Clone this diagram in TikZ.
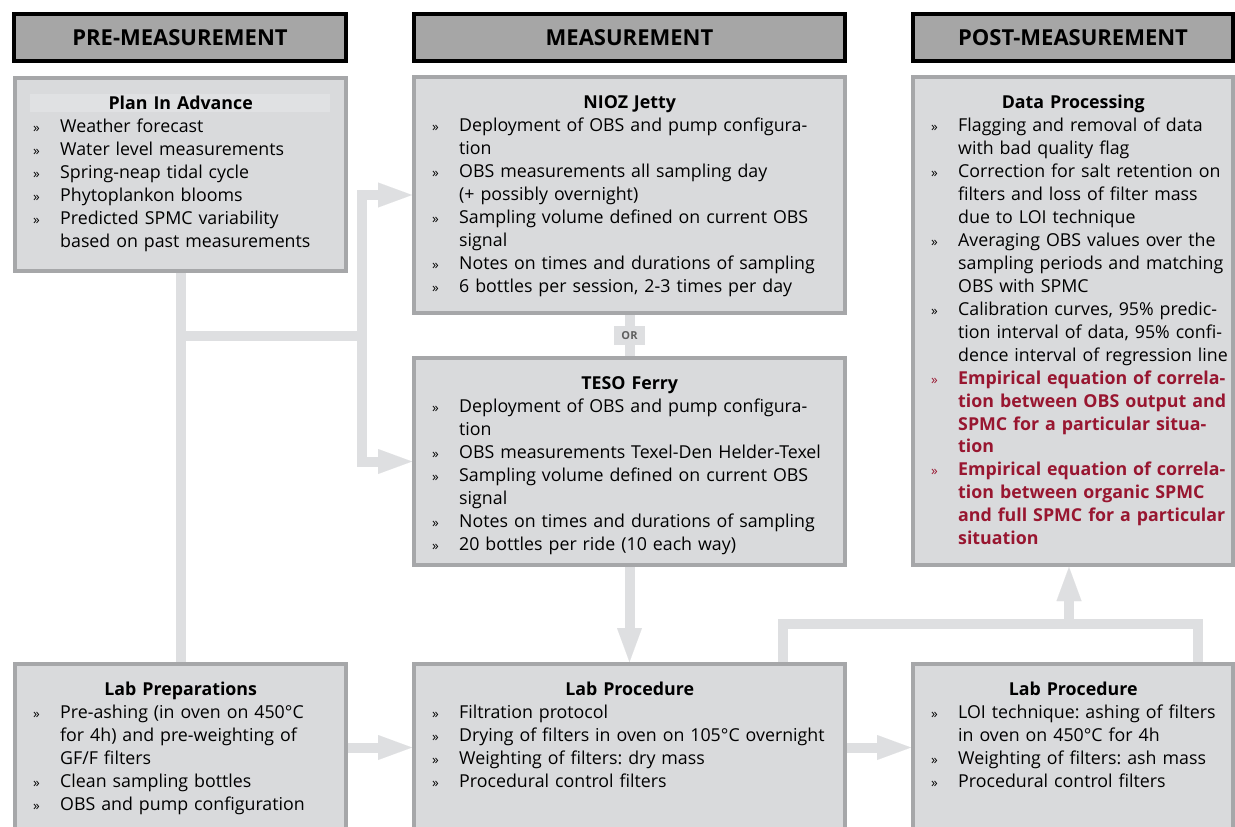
\documentclass[tikz,border=0pt]{standalone}
\usepackage{fontspec}
\setmainfont{Open Sans}
\usetikzlibrary{arrows.meta,calc}
\frenchspacing
\definecolor{boxfill}{RGB}{217,218,220}
\definecolor{boxline}{RGB}{166,167,169}
\definecolor{hdrfill}{RGB}{166,166,166}
\definecolor{connc}{RGB}{222,223,225}
\definecolor{bandc}{RGB}{224,225,227}
\definecolor{emph}{RGB}{152,22,48}
\definecolor{orc}{RGB}{95,95,95}
\newcommand{\bl}[1]{\makebox[47pt][l]{\hspace{20pt}{\fontsize{13.5}{13.5}\selectfont »}}#1}
\newcommand{\cl}[1]{\hspace*{47pt}#1}
\newcommand{\rbl}[1]{{\color{emph}\makebox[47pt][l]{\hspace{20pt}{\fontsize{13.5}{13.5}\selectfont »}}\bfseries #1}}
\newcommand{\rcl}[1]{{\color{emph}\bfseries\hspace*{47pt}#1}}
\begin{document}
\begin{tikzpicture}[x=1pt,y=-1pt,
  hdr/.style={draw=black, line width=4pt, fill=hdrfill, inner sep=0pt,
    font=\fontsize{22}{26}\selectfont\bfseries},
  card/.style={draw=boxline, line width=4pt, fill=boxfill, inner sep=0pt},
  txt/.style={anchor=base west, inner sep=0pt, align=left,
    font=\fontsize{17.8}{23}\selectfont\frenchspacing},
  conn/.style={draw=connc, line width=10pt},
  arr/.style={-{Triangle[length=34pt,width=25pt,line width=0.01pt]}},
  orlbl/.style={fill=connc, inner sep=0pt, minimum width=31pt, minimum height=19pt,
    text=orc, font=\fontsize{11}{12}\selectfont\bfseries}]
\useasboundingbox (0,0) rectangle (1235,827);
\clip (0,0) rectangle (1235,827);
% headers
\node[hdr, minimum width=332pt, minimum height=47pt] (hpre) at (180,37.5) {PRE-MEASUREMENT};
\node[hdr, minimum width=431pt, minimum height=47pt] (hmeas) at (629.5,37.5) {MEASUREMENT};
\node[hdr, minimum width=320pt, minimum height=47pt] (hpost) at (1073,37.5) {POST-MEASUREMENT};
% boxes
\node[card, minimum width=331pt, minimum height=193pt] (plan) at (180.5,174.5) {};
\node[card, minimum width=431pt, minimum height=236pt] (nioz) at (629.5,195) {};
\node[card, minimum width=431pt, minimum height=207pt] (teso) at (629.5,461.5) {};
\node[card, minimum width=320pt, minimum height=488pt] (data) at (1073,321) {};
\node[card, minimum width=331pt, minimum height=167pt] (labprep) at (180.5,747.5) {};
\node[card, minimum width=431pt, minimum height=167pt] (labproc) at (629.5,747.5) {};
\node[card, minimum width=320pt, minimum height=167pt] (labloi) at (1073,747.5) {};
\fill[bandc] (30,94) rectangle (330,112);
% texts
\node[txt, text width=335pt] (plantxt) at (13,109) {%
\makebox[335pt]{\bfseries Plan In Advance}\\
\bl{Weather forecast}\\
\bl{Water level measurements}\\
\bl{Spring-neap tidal cycle}\\
\bl{Phytoplankon blooms}\\
\bl{Predicted SPMC variability}\\
\cl{based on past measurements}};
\node[txt, text width=435pt] (nioztxt) at (412,108) {%
\makebox[435pt]{\bfseries NIOZ Jetty}\\
\bl{Deployment of OBS and pump configura-}\\
\cl{tion}\\
\bl{OBS measurements all sampling day}\\
\cl{(+ possibly overnight)}\\
\bl{Sampling volume defined on current OBS}\\
\cl{signal}\\
\bl{Notes on times and durations of sampling}\\
\bl{6 bottles per session, 2-3 times per day}};
\node[txt, text width=435pt] (tesotxt) at (412,389) {%
\makebox[435pt]{\bfseries TESO Ferry}\\
\bl{Deployment of OBS and pump configura-}\\
\cl{tion}\\
\bl{OBS measurements Texel-Den Helder-Texel}\\
\bl{Sampling volume defined on current OBS}\\
\cl{signal}\\
\bl{Notes on times and durations of sampling}\\
\bl{20 bottles per ride (10 each way)}};
\node[txt, text width=324pt] (datatxt) at (911,108) {%
\makebox[324pt]{\bfseries Data Processing}\\
\bl{Flagging and removal of data}\\
\cl{with bad quality flag}\\
\bl{Correction for salt retention on}\\
\cl{filters and loss of filter mass}\\
\cl{due to LOI technique}\\
\bl{Averaging OBS values over the}\\
\cl{sampling periods and matching}\\
\cl{OBS with SPMC}\\
\bl{Calibration curves, 95\% predic-}\\
\cl{tion interval of data, 95\% confi-}\\
\cl{dence interval of regression line}\\
\rbl{Empirical equation of correla-}\\
\rcl{tion between OBS output and}\\
\rcl{SPMC for a particular situa-}\\
\rcl{tion}\\
\rbl{Empirical equation of correla-}\\
\rcl{tion between organic SPMC}\\
\rcl{and full SPMC for a particular}\\
\rcl{situation}};
\node[txt, text width=335pt] (labpreptxt) at (13,695) {%
\makebox[335pt]{\bfseries Lab Preparations}\\
\bl{Pre-ashing (in oven on 450°C}\\
\cl{for 4h) and pre-weighting of}\\
\cl{GF/F filters}\\
\bl{Clean sampling bottles}\\
\bl{OBS and pump configuration}};
\node[txt, text width=435pt] (labproctxt) at (412,695) {%
\makebox[435pt]{\bfseries Lab Procedure}\\
\bl{Filtration protocol}\\
\bl{Drying of filters in oven on 105°C overnight}\\
\bl{Weighting of filters: dry mass}\\
\bl{Procedural control filters}};
\node[txt, text width=324pt] (labloitxt) at (911,695) {%
\makebox[324pt]{\bfseries Lab Procedure}\\
\bl{LOI technique: ashing of filters}\\
\cl{in oven on 450°C for 4h}\\
\bl{Weighting of filters: ash mass}\\
\bl{Procedural control filters}};
% connectors
\coordinate (bA) at (180.5,336);
\coordinate (bB) at (362,336);
\coordinate (j1) at (783,624);
\coordinate (j2) at (1198,624);
\coordinate (j3) at (1069,624);
\draw[conn] (plan.south) -- (labprep.north);
\draw[conn] (bA) -- (bB);
\draw[conn,arr] (bB) |- (nioz.west);
\draw[conn,arr] (bB) |- (teso.west);
\draw[conn] (nioz.south) -- (teso.north);
\draw[conn,arr] (teso.south) -- (labproc.north);
\draw[conn,arr] (labprep.east) -- (labproc.west);
\draw[conn,arr] (labproc.east) -- (labloi.west);
\draw[conn] (labproc.north -| j1) -- (j1) -- (j2) -- (labloi.north -| j2);
\draw[conn,arr] (j3) -- (data.south -| j3);
\node[orlbl] (or) at (629.5,335.5) {OR};
\end{tikzpicture}
\end{document}
